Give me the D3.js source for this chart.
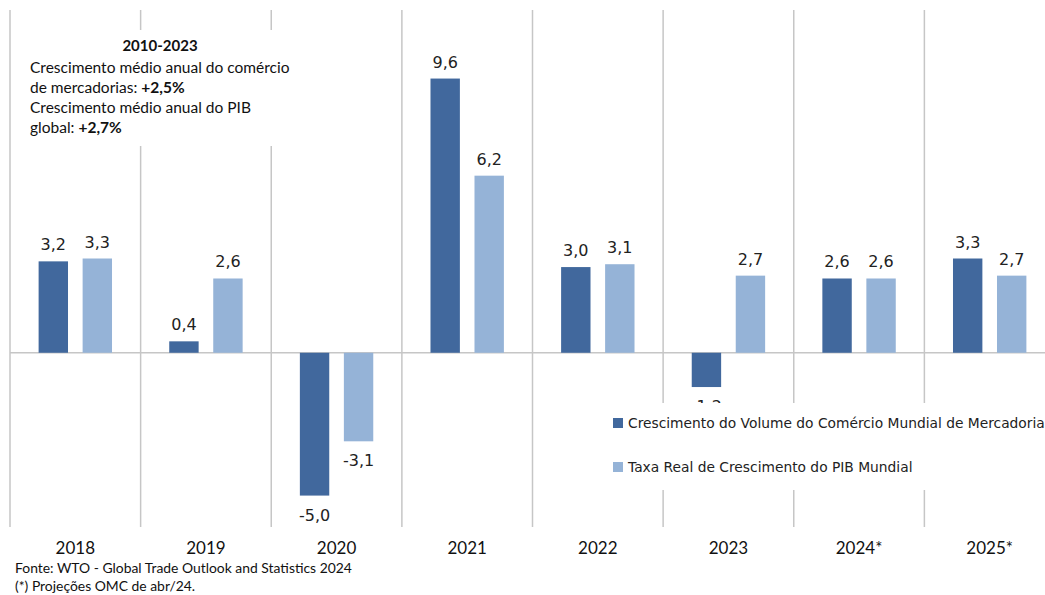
<!DOCTYPE html>
<html>
<head>
<meta charset="utf-8">
<script src="https://cdn.jsdelivr.net/npm/d3@7"></script>
<style>
  body { margin: 0; background: #fff; }
</style>
</head>
<body>
<div id="chart"></div>
<script>
var years = ["2018", "2019", "2020", "2021", "2022", "2023", "2024*", "2025*"];
var series = ["Crescimento do Volume do Comércio Mundial de Mercadorias", "Taxa Real de Crescimento do PIB Mundial"];
var comercio = [3.2, 0.4, -5.0, 9.6, 3.0, -1.2, 2.6, 3.3];
var pib = [3.3, 2.6, -3.1, 6.2, 3.1, 2.7, 2.6, 2.7];
var colors = ["#41689d", "#95b3d7"];
var notaTitulo = "2010-2023";
var notaLinhas = [
  ["Crescimento médio anual do comércio", ""],
  ["de mercadorias: ", "+2,5%"],
  ["Crescimento médio anual do PIB", ""],
  ["global: ", "+2,7%"]
];
var fonte = ["Fonte: WTO - Global Trade Outlook and Statistics 2024", "(*) Projeções OMC de abr/24."];

var W = 1045, H = 595;
var svg = d3.select("#chart").append("svg")
  .attr("width", W).attr("height", H);

var x = d3.scaleBand().domain(years).range([10, 1055]).padding(0);
var xs = d3.scaleBand().domain([0, 1]).range([-36.7, 36.7]).paddingInner(0.332);
var y = d3.scaleLinear().domain([-6.1, 12]).range([527, 10]);

var data = years.map(function(d, i) {
  return { year: d, values: [comercio[i], pib[i]] };
});

// vertical gridlines at category edges
var edges = years.map(function(d) { return x(d); });
edges.push(x(years[years.length - 1]) + x.bandwidth());
svg.selectAll(".grid")
  .data(edges)
  .enter().append("line")
  .attr("class", "grid")
  .attr("x1", function(d) { return d; })
  .attr("x2", function(d) { return d; })
  .attr("y1", y(12))
  .attr("y2", y(-6.1))
  .style("stroke", "#c6c6c6")
  .style("stroke-width", 1.5);

// zero line
svg.append("line")
  .attr("x1", 10).attr("x2", W)
  .attr("y1", y(0)).attr("y2", y(0))
  .style("stroke", "#c6c6c6")
  .style("stroke-width", 1.5);

var groups = svg.selectAll(".grp")
  .data(data)
  .enter().append("g")
  .attr("class", "grp")
  .attr("transform", function(d) { return "translate(" + (x(d.year) + x.bandwidth() / 2) + ",0)"; });

var cells = groups.selectAll(".cell")
  .data(function(d) { return d.values.map(function(v, k) { return { k: k, v: v }; }); })
  .enter().append("g")
  .attr("class", "cell");

cells.append("rect")
  .attr("x", function(d) { return xs(d.k); })
  .attr("width", xs.bandwidth())
  .attr("y", function(d) { return y(Math.max(0, d.v)); })
  .attr("height", function(d) { return Math.abs(y(d.v) - y(0)); })
  .style("fill", function(d) { return colors[d.k]; });

cells.append("text")
  .attr("x", function(d) { return xs(d.k) + xs.bandwidth() / 2; })
  .attr("y", function(d) { return d.v >= 0 ? y(d.v) - 11 : y(d.v) + 25; })
  .attr("text-anchor", "middle")
  .style("font-family", "DejaVu Sans")
  .style("font-size", "16px")
  .style("fill", "#222")
  .text(function(d) { return d3.format(".1f")(d.v).replace(".", ",").replace("\u2212", "-"); });

// year labels
svg.selectAll(".yr")
  .data(years)
  .enter().append("text")
  .attr("class", "yr")
  .attr("x", function(d) { return x(d) + x.bandwidth() / 2; })
  .attr("y", 554)
  .attr("text-anchor", "middle")
  .style("font-family", "Lato")
  .style("font-size", "17px")
  .style("fill", "#111")
  .text(function(d) { return d; });

// annotation box
svg.append("rect")
  .attr("x", 11).attr("y", 30).attr("width", 290).attr("height", 116)
  .style("fill", "#fff");
svg.append("text")
  .attr("x", 160).attr("y", 51)
  .attr("text-anchor", "middle")
  .style("font-family", "Lato")
  .style("font-size", "15px")
  .style("font-weight", "bold")
  .style("fill", "#111")
  .text(notaTitulo);
var nota = svg.selectAll(".nota")
  .data(notaLinhas)
  .enter().append("text")
  .attr("class", "nota")
  .attr("x", 30)
  .attr("y", function(d, i) { return 73 + i * 20; })
  .style("font-family", "Lato")
  .style("font-size", "15.5px")
  .style("fill", "#111");
nota.append("tspan").text(function(d) { return d[0]; });
nota.append("tspan").style("font-weight", "bold").text(function(d) { return d[1]; });

// legend box
svg.append("rect")
  .attr("x", 600).attr("y", 403).attr("width", 445).attr("height", 87)
  .style("fill", "#fff");
var leg = svg.selectAll(".leg")
  .data(series)
  .enter().append("g")
  .attr("class", "leg")
  .attr("transform", function(d, i) { return "translate(613," + (418 + i * 44) + ")"; });
leg.append("rect")
  .attr("width", 10).attr("height", 10)
  .style("fill", function(d, i) { return colors[i]; });
leg.append("text")
  .attr("x", 15).attr("y", 10)
  .style("font-family", "DejaVu Sans")
  .style("font-size", "13.8px")
  .style("fill", "#222")
  .text(function(d) { return d; });

// source
svg.selectAll(".fonte")
  .data(fonte)
  .enter().append("text")
  .attr("class", "fonte")
  .attr("x", 15)
  .attr("y", function(d, i) { return 573 + i * 18; })
  .style("font-family", "Lato")
  .style("font-size", "13.9px")
  .style("fill", "#111")
  .text(function(d) { return d; });
</script>
</body>
</html>
